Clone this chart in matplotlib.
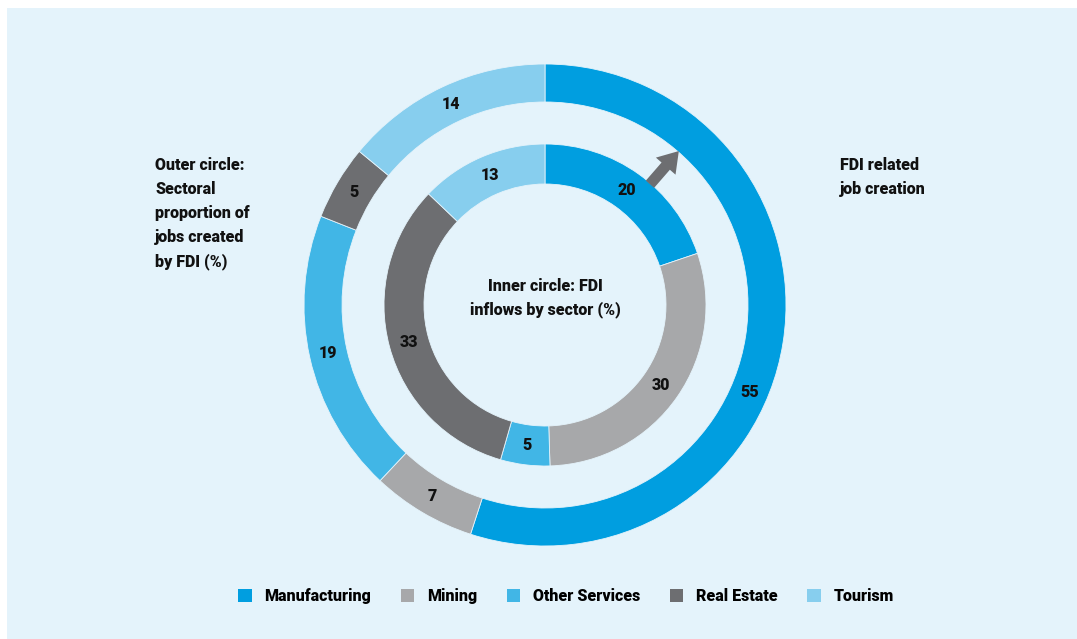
import numpy as np
import matplotlib
matplotlib.use("Agg")
import matplotlib.pyplot as plt
from matplotlib.patches import Rectangle, FancyArrow

plt.rcParams["font.family"] = ["Roboto", "DejaVu Sans"]

sectors = ["Manufacturing", "Mining", "Other Services", "Real Estate", "Tourism"]
colors = ["#009EE0", "#A7A8AA", "#41B6E6", "#6D6E71", "#87CEEE"]
jobs_share = [55, 7, 19, 5, 14]      # outer ring: jobs created by FDI (%)
inflow_share = [20, 30, 5, 33, 13]   # inner ring: FDI inflows by sector (%)

BG = "#E4F3FB"
W, H = 1077, 639
cx, cy = 545, H - 305
FW = "black"

fig = plt.figure(figsize=(W / 100, H / 100), dpi=100, facecolor="white")
ax = fig.add_axes([0, 0, 1, 1])
ax.add_patch(Rectangle((7, 0), W - 7, H - 8, facecolor=BG, edgecolor="none", zorder=0))

wp = dict(edgecolor=BG, linewidth=0.6)
outer, _ = ax.pie(jobs_share, colors=colors, radius=241, center=(cx, cy), startangle=90,
                  counterclock=False, wedgeprops=dict(width=38, **wp), frame=True)
inner, _ = ax.pie(inflow_share, colors=colors, radius=161, center=(cx, cy), startangle=90,
                  counterclock=False, wedgeprops=dict(width=40, **wp), frame=True)

def label_ring(wedges, values, r, offsets=None):
    for i, (w, v) in enumerate(zip(wedges, values)):
        ang = (w.theta1 + w.theta2) / 2 + (offsets or {}).get(i, 0)
        a = np.deg2rad(ang)
        ax.text(cx + r * np.cos(a), cy + r * np.sin(a), str(v), ha="center", va="center",
                fontsize=11.5, fontweight=FW, color="#111111", zorder=5)

label_ring(outer, jobs_share, 222, offsets={0: -14})
label_ring(inner, inflow_share, 141)

# arrow from inner ring towards outer ring
a = np.deg2rad(49)
r0, r1 = 160, 204
ax.add_patch(FancyArrow(cx + r0 * np.cos(a), cy + r0 * np.sin(a),
                        (r1 - r0) * np.cos(a), (r1 - r0) * np.sin(a),
                        width=11, head_width=26, head_length=20,
                        length_includes_head=True, color="#6D6E71", lw=0, zorder=4))

txt = dict(fontsize=11.5, fontweight=FW, color="#111111", linespacing=1.62)
ax.text(155, H - 157, "Outer circle:\nSectoral\nproportion of\njobs created\nby FDI (%)",
        ha="left", va="top", **txt)
ax.text(840, H - 157, "FDI related\njob creation", ha="left", va="top", **txt)
ax.text(cx, H - 298, "Inner circle: FDI\ninflows by sector (%)", ha="center", va="center", **txt)

ax.set_xlim(0, W)
ax.set_ylim(0, H)
ax.set_aspect("auto")
ax.axis("off")

handles = [Rectangle((0, 0), 1, 1, facecolor=c) for c in colors]
fig.legend(handles, sectors, ncol=5, loc="center", bbox_to_anchor=(566 / W, 1 - 596 / H),
           frameon=False, handlelength=0.85, handleheight=0.85, handletextpad=0.8,
           columnspacing=1.85, prop=dict(size=11.5, weight=FW))

fig.savefig("out.png", dpi=100, facecolor="white")
